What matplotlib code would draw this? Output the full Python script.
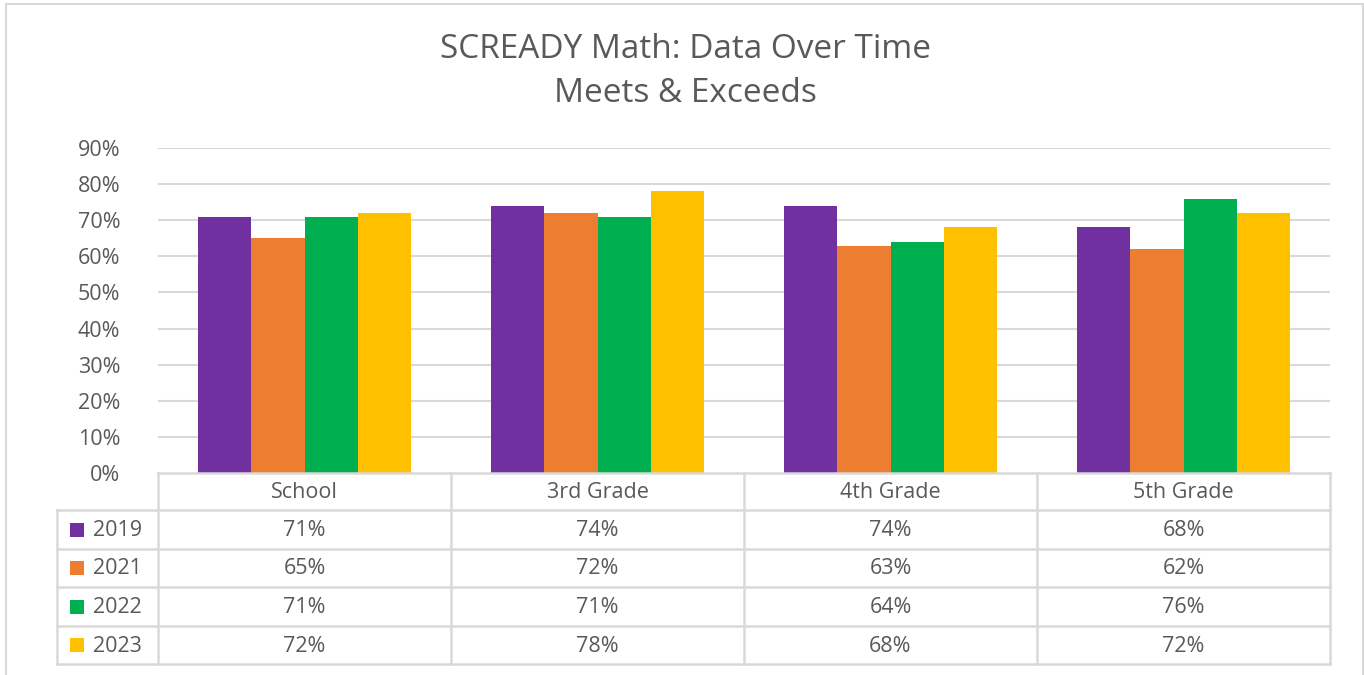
import matplotlib
matplotlib.use("Agg")
import matplotlib.pyplot as plt
from matplotlib.patches import Rectangle
from matplotlib.lines import Line2D

categories = ["School", "3rd Grade", "4th Grade", "5th Grade"]
years = ["2019", "2021", "2022", "2023"]
v2019 = [71, 74, 74, 68]
v2021 = [65, 72, 63, 62]
v2022 = [71, 71, 64, 76]
v2023 = [72, 78, 68, 72]
series = [v2019, v2021, v2022, v2023]
colors = ["#7030A0", "#ED7D31", "#00B050", "#FFC000"]
yticks = [0, 10, 20, 30, 40, 50, 60, 70, 80, 90]

W, H = 1364, 675
plt.rcParams['font.family'] = ['Open Sans', 'DejaVu Sans']
TXT = "#595959"
GRID = "#D9D9D9"

fig = plt.figure(figsize=(W / 100, H / 100), dpi=100)

def fx(px):
    return px / W

def fy(py):
    return 1 - py / H

# outer chart border
fig.patches.append(Rectangle((fx(5.5), fy(700)), fx(1363 - 5.5), (700 - 3.5) / H,
                             transform=fig.transFigure, fill=False,
                             edgecolor=GRID, linewidth=1.5, zorder=0))

# title
fig.text(fx(685), fy(49), "SCREADY Math: Data Over Time", ha="center", va="center",
         fontsize=24, color=TXT)
fig.text(fx(685), fy(93), "Meets & Exceeds", ha="center", va="center",
         fontsize=24, color=TXT)

# plot area
left, right = 158, 1330
top, bottom = 148, 473
ax = fig.add_axes([fx(left), fy(bottom), fx(right - left), (bottom - top) / H])
n = len(categories)
ns = len(series)
bw = 1 / (ns + 1.5)
for i, (vals, c) in enumerate(zip(series, colors)):
    xs = [k + 0.5 + (i - (ns - 1) / 2) * bw for k in range(n)]
    ax.bar(xs, vals, width=bw, color=c, zorder=3, linewidth=0)
ax.set_xlim(0, n)
ax.set_ylim(0, 90)
ax.set_yticks(yticks)
ax.set_yticklabels([f"{t}%" for t in yticks])
ax.tick_params(axis="y", length=0, pad=27, labelsize=15.5, labelcolor=TXT)
ax.set_xticks([])
for t in yticks[1:]:
    ax.axhline(t, color=GRID, linewidth=1.5, zorder=1)
for s in ax.spines.values():
    s.set_visible(False)

# data table
tleft = 57
row_y = [473, 510, 549, 587, 626, 664]
col_x = [left + k * (right - left) / n for k in range(n + 1)]
lw = 1.8
def hline(y, x0, x1):
    fig.add_artist(Line2D([fx(x0), fx(x1)], [fy(y), fy(y)], color=GRID, linewidth=lw,
                          transform=fig.transFigure))
def vline(x, y0, y1):
    fig.add_artist(Line2D([fx(x), fx(x)], [fy(y0), fy(y1)], color=GRID, linewidth=lw,
                          transform=fig.transFigure))

hline(row_y[0], left, right)
for y in row_y[1:]:
    hline(y, tleft, right)
vline(tleft, row_y[1], row_y[-1])
for x in col_x:
    vline(x, row_y[0], row_y[-1])

fs = 15.5
for k, cat in enumerate(categories):
    cx = (col_x[k] + col_x[k + 1]) / 2
    fig.text(fx(cx), fy((row_y[0] + row_y[1]) / 2 + 1), cat, ha="center", va="center",
             fontsize=fs, color=TXT)
for i, (yr, vals, c) in enumerate(zip(years, series, colors)):
    cy = (row_y[i + 1] + row_y[i + 2]) / 2
    fig.patches.append(Rectangle((fx(70), fy(cy + 7)), fx(14), 14 / H,
                                 transform=fig.transFigure, facecolor=c, edgecolor="none"))
    fig.text(fx(93), fy(cy + 1), yr, ha="left", va="center", fontsize=fs, color=TXT)
    for k, v in enumerate(vals):
        cx = (col_x[k] + col_x[k + 1]) / 2
        fig.text(fx(cx), fy(cy + 1), f"{v}%", ha="center", va="center",
                 fontsize=fs, color=TXT)

fig.savefig("out.png", dpi=100, facecolor="white")
